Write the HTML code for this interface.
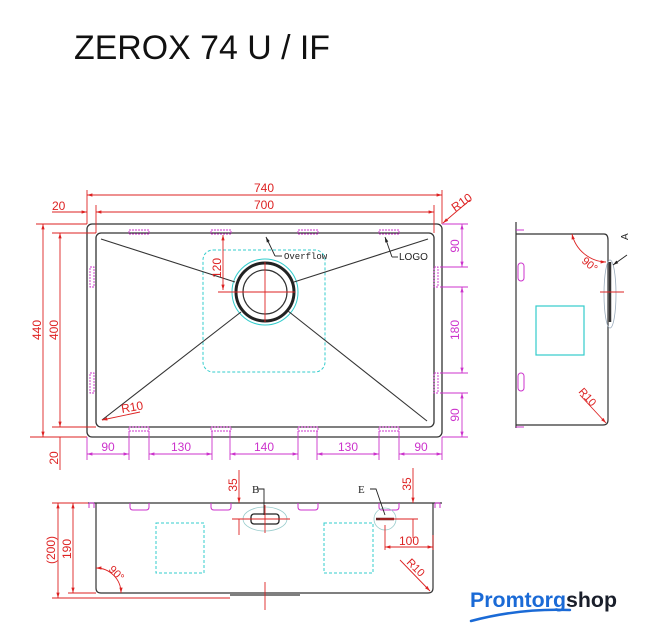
<!DOCTYPE html>
<html><head><meta charset="utf-8"><style>
html,body{margin:0;padding:0;background:#fff;width:662px;height:640px;overflow:hidden}
svg{display:block}
</style></head><body>
<svg width="662" height="640" viewBox="0 0 662 640" xmlns="http://www.w3.org/2000/svg" font-family="Liberation Sans, sans-serif">
<defs>
<marker id="ar" viewBox="0 0 10 10" refX="10" refY="5" markerWidth="6" markerHeight="6" orient="auto-start-reverse"><path d="M0,2 L10,5 L0,8z" fill="#d22"/></marker>
<marker id="am" viewBox="0 0 10 10" refX="10" refY="5" markerWidth="6" markerHeight="6" orient="auto-start-reverse"><path d="M0,2 L10,5 L0,8z" fill="#c3c"/></marker>
<marker id="ab" viewBox="0 0 10 10" refX="10" refY="5" markerWidth="6" markerHeight="6" orient="auto"><path d="M0,2 L10,5 L0,8z" fill="#222"/></marker>
</defs>
<text x="74" y="59" font-size="34" fill="#111" textLength="256" lengthAdjust="spacingAndGlyphs">ZEROX 74 U / IF</text>

<!-- TOP VIEW -->
<rect x="87" y="224" width="355" height="213" rx="5" fill="none" stroke="#333" stroke-width="1.3"/>
<rect x="96" y="233" width="338" height="194" rx="5" fill="none" stroke="#333" stroke-width="1.3"/>
<rect x="203" y="250" width="122" height="122" rx="10" fill="none" stroke="#3cc" stroke-width="1" stroke-dasharray="3,2"/>
<circle cx="265" cy="292" r="33" fill="none" stroke="#3cc" stroke-width="1"/>
<circle cx="265" cy="292" r="29" fill="none" stroke="#222" stroke-width="3"/>
<circle cx="265" cy="292" r="22" fill="none" stroke="#333" stroke-width="1.2"/>
<g stroke="#333" stroke-width="1.1">
<line x1="101" y1="239" x2="235" y2="282"/><line x1="428" y1="239" x2="294" y2="282"/>
<line x1="102" y1="420" x2="241" y2="312"/><line x1="427" y1="421" x2="288" y2="311"/>
</g>
<g stroke="#d22" stroke-width="0.9" fill="none">
<line x1="265" y1="262" x2="265" y2="322"/><line x1="218" y1="292" x2="295" y2="292"/>
<line x1="223" y1="235" x2="223" y2="290" marker-start="url(#ar)" marker-end="url(#ar)"/>
<line x1="87" y1="195" x2="442" y2="195" marker-start="url(#ar)" marker-end="url(#ar)"/>
<line x1="96" y1="212" x2="434" y2="212" marker-start="url(#ar)" marker-end="url(#ar)"/>
<line x1="52" y1="212" x2="87" y2="212" marker-end="url(#ar)"/>
<line x1="87" y1="190" x2="87" y2="224"/><line x1="442" y1="190" x2="442" y2="224"/>
<line x1="96" y1="205" x2="96" y2="233"/><line x1="434" y1="205" x2="434" y2="233"/>
<line x1="43" y1="224" x2="43" y2="437" marker-start="url(#ar)" marker-end="url(#ar)"/>
<line x1="60" y1="233" x2="60" y2="427" marker-start="url(#ar)" marker-end="url(#ar)"/>
<line x1="36" y1="224" x2="87" y2="224"/><line x1="52" y1="233" x2="96" y2="233"/>
<line x1="52" y1="427" x2="96" y2="427"/><line x1="30" y1="437" x2="87" y2="437"/>
<line x1="60" y1="437" x2="60" y2="470"/>
<line x1="470" y1="200" x2="443" y2="223" marker-end="url(#ar)"/>
<line x1="140" y1="412" x2="102" y2="420" marker-end="url(#ar)"/>
</g>
<g fill="#d22" font-size="12">
<text x="264" y="192" text-anchor="middle">740</text>
<text x="264" y="209" text-anchor="middle">700</text>
<text x="52" y="210">20</text>
<text transform="translate(41,330) rotate(-90)" text-anchor="middle">440</text>
<text transform="translate(58,330) rotate(-90)" text-anchor="middle">400</text>
<text transform="translate(58,458) rotate(-90)" text-anchor="middle">20</text>
<text transform="translate(221,268) rotate(-90)" text-anchor="middle">120</text>
<text transform="translate(455,212) rotate(-35)">R10</text>
<text x="122" y="413" transform="rotate(-10 122 413)">R10</text>
</g>
<!-- clips -->
<g fill="none" stroke="#c3c" stroke-width="0.9" stroke-dasharray="2,1">
<rect x="129" y="230" width="20" height="4"/><rect x="211" y="230" width="20" height="4"/><rect x="298" y="230" width="20" height="4"/><rect x="379" y="230" width="20" height="4"/>
<rect x="129" y="427" width="20" height="4"/><rect x="211" y="427" width="20" height="4"/><rect x="298" y="427" width="20" height="4"/><rect x="379" y="427" width="20" height="4"/>
<rect x="90" y="267" width="4" height="20"/><rect x="90" y="373" width="4" height="20"/>
<rect x="434" y="267" width="4" height="20"/><rect x="434" y="373" width="4" height="20"/>
</g>
<g stroke="#c3c" stroke-width="0.9" fill="none">
<line x1="462" y1="224" x2="462" y2="267" marker-start="url(#am)" marker-end="url(#am)"/>
<line x1="462" y1="287" x2="462" y2="373" marker-start="url(#am)" marker-end="url(#am)"/>
<line x1="462" y1="393" x2="462" y2="437" marker-start="url(#am)" marker-end="url(#am)"/>
<line x1="442" y1="224" x2="468" y2="224"/><line x1="440" y1="267" x2="468" y2="267"/><line x1="440" y1="287" x2="468" y2="287"/><line x1="440" y1="373" x2="468" y2="373"/><line x1="440" y1="393" x2="468" y2="393"/><line x1="442" y1="437" x2="468" y2="437"/>
<line x1="87" y1="454" x2="129" y2="454" marker-start="url(#am)" marker-end="url(#am)"/>
<line x1="149" y1="454" x2="212" y2="454" marker-start="url(#am)" marker-end="url(#am)"/>
<line x1="230" y1="454" x2="298" y2="454" marker-start="url(#am)" marker-end="url(#am)"/>
<line x1="317" y1="454" x2="379" y2="454" marker-start="url(#am)" marker-end="url(#am)"/>
<line x1="399" y1="454" x2="442" y2="454" marker-start="url(#am)" marker-end="url(#am)"/>
<line x1="87" y1="437" x2="87" y2="460"/><line x1="129" y1="431" x2="129" y2="460"/><line x1="149" y1="431" x2="149" y2="460"/><line x1="212" y1="431" x2="212" y2="460"/><line x1="230" y1="431" x2="230" y2="460"/><line x1="298" y1="431" x2="298" y2="460"/><line x1="317" y1="431" x2="317" y2="460"/><line x1="379" y1="431" x2="379" y2="460"/><line x1="399" y1="431" x2="399" y2="460"/><line x1="442" y1="437" x2="442" y2="460"/>
</g>
<g fill="#c3c" font-size="12" text-anchor="middle">
<text x="108" y="451">90</text><text x="181" y="451">130</text><text x="264" y="451">140</text><text x="348" y="451">130</text><text x="421" y="451">90</text>
<text transform="translate(459,246) rotate(-90)">90</text>
<text transform="translate(459,330) rotate(-90)">180</text>
<text transform="translate(459,415) rotate(-90)">90</text>
</g>
<g stroke="#222" stroke-width="0.9" fill="none">
<polyline points="275,256 282,256"/><line x1="275" y1="256" x2="266" y2="237" marker-end="url(#ab)"/>
<polyline points="392,257 398,257"/><line x1="392" y1="257" x2="385" y2="237" marker-end="url(#ab)"/>
</g>
<text x="284" y="259" font-family="Liberation Mono, monospace" font-size="9" fill="#222">Overflow</text>
<text x="399" y="260" font-size="10" fill="#222">LOGO</text>

<!-- SIDE VIEW -->
<g stroke="#333" stroke-width="1.2" fill="none">
<line x1="516" y1="222" x2="516" y2="428"/>
<path d="M516,234 H604 Q608,234 608,240 V420 Q608,425 603,425 H516"/>
</g>
<g stroke="#c3c" stroke-width="1" fill="none">
<path d="M516,230 H524 M516,427 H524"/>
<rect x="518" y="263" width="6" height="18" rx="3"/><rect x="518" y="373" width="6" height="18" rx="3"/>
</g>
<rect x="536" y="306" width="48" height="49" fill="none" stroke="#3cc" stroke-width="1.2"/>
<ellipse cx="610" cy="294" rx="6" ry="34" fill="none" stroke="#9ab" stroke-width="0.8"/>
<line x1="610" y1="262" x2="610" y2="322" stroke="#333" stroke-width="2.5"/>
<line x1="600" y1="292" x2="624" y2="292" stroke="#d22" stroke-width="1"/>
<path d="M572,234 A36,36 0 0 0 606,262" fill="none" stroke="#d22" stroke-width="0.9" marker-start="url(#ar)" marker-end="url(#ar)"/>
<text transform="translate(581,262) rotate(40)" fill="#d22" font-size="11">90°</text>
<line x1="627" y1="255" x2="613" y2="265" stroke="#222" stroke-width="0.9" marker-end="url(#ab)"/>
<text transform="translate(628,240) rotate(-90)" fill="#222" font-size="10">A</text>
<line x1="580" y1="395" x2="606" y2="423" stroke="#d22" stroke-width="0.9" marker-end="url(#ar)"/>
<text transform="translate(578,392) rotate(48)" fill="#d22" font-size="11">R10</text>

<!-- FRONT VIEW -->
<line x1="88" y1="503" x2="442" y2="503" stroke="#333" stroke-width="1.2"/>
<path d="M96,503 V588 Q96,593 101,593 H428 Q433,593 433,588 V503" fill="none" stroke="#333" stroke-width="1.2"/>
<line x1="230" y1="595" x2="300" y2="595" stroke="#555" stroke-width="1.5"/>
<g stroke="#c3c" stroke-width="1" fill="none">
<path d="M89,503 V508 M94,503 V508 M89,503 H94 M435,503 V508 M440,503 V508 M435,503 H440"/>
<path d="M130,503 V507 Q130,510 133,510 H146 Q149,510 149,507 V503"/>
<path d="M211,503 V507 Q211,510 214,510 H228 Q231,510 231,507 V503"/>
<path d="M298,503 V507 Q298,510 301,510 H315 Q318,510 318,507 V503"/>
<path d="M379,503 V507 Q379,510 382,510 H396 Q399,510 399,507 V503"/>
</g>
<g fill="none" stroke="#3cc" stroke-width="1" stroke-dasharray="3,2">
<rect x="156" y="523" width="48" height="50"/><rect x="324" y="523" width="49" height="50"/>
</g>
<ellipse cx="265" cy="519" rx="22" ry="12" fill="none" stroke="#9cc" stroke-width="0.8"/>
<rect x="251" y="514" width="28" height="10" rx="3" fill="none" stroke="#222" stroke-width="1.3"/>
<circle cx="385" cy="519" r="11" fill="none" stroke="#9cc" stroke-width="0.8"/>
<line x1="376" y1="519" x2="394" y2="519" stroke="#622" stroke-width="2.5"/>
<g stroke="#222" stroke-width="0.9" fill="none">
<polyline points="258,489 264,489 264,515"/>
<polyline points="370,489 376,489 385,515"/>
</g>
<text x="252" y="493" font-family="Liberation Serif, serif" font-size="11" fill="#222">B</text>
<text x="358" y="493" font-family="Liberation Serif, serif" font-size="11" fill="#222">E</text>
<g stroke="#d22" stroke-width="0.9" fill="none">
<line x1="73" y1="503" x2="73" y2="593" marker-start="url(#ar)" marker-end="url(#ar)"/>
<line x1="58" y1="503" x2="58" y2="598" marker-start="url(#ar)" marker-end="url(#ar)"/>
<line x1="52" y1="503" x2="88" y2="503"/><line x1="68" y1="593" x2="96" y2="593"/><line x1="52" y1="598" x2="230" y2="598"/>
<line x1="239" y1="470" x2="239" y2="503" marker-end="url(#ar)"/><line x1="239" y1="519" x2="239" y2="535"/>
<line x1="232" y1="519" x2="290" y2="519"/><line x1="265" y1="505" x2="265" y2="533"/>
<line x1="413" y1="468" x2="413" y2="503" marker-end="url(#ar)"/><line x1="413" y1="519" x2="413" y2="538"/>
<line x1="380" y1="519" x2="418" y2="519"/>
<line x1="385" y1="547" x2="433" y2="547" marker-start="url(#ar)" marker-end="url(#ar)"/>
<line x1="385" y1="525" x2="385" y2="550"/><line x1="433" y1="535" x2="433" y2="550"/>
<line x1="265" y1="582" x2="265" y2="610"/>
<path d="M96,568 A25,25 0 0 1 121,593" marker-start="url(#ar)" marker-end="url(#ar)"/>
<line x1="400" y1="560" x2="430" y2="591" marker-end="url(#ar)"/>
</g>
<g fill="#d22" font-size="12">
<text transform="translate(55,550) rotate(-90)" text-anchor="middle">(200)</text>
<text transform="translate(71,549) rotate(-90)" text-anchor="middle">190</text>
<text transform="translate(237,485) rotate(-90)" text-anchor="middle">35</text>
<text transform="translate(411,484) rotate(-90)" text-anchor="middle">35</text>
<text x="409" y="545" text-anchor="middle">100</text>
<text transform="translate(108,570) rotate(45)" font-size="11">90°</text>
<text transform="translate(406,563) rotate(45)" font-size="11">R10</text>
</g>

<!-- LOGO -->
<text x="470" y="607" font-size="21" font-weight="bold" fill="#1a6ad6" textLength="147" lengthAdjust="spacingAndGlyphs">Promtorg<tspan fill="#1a1f2b">shop</tspan></text>
<path d="M471,621 Q520,608 570,610" fill="none" stroke="#1a6ad6" stroke-width="2.5" stroke-linecap="round"/>
</svg>
</body></html>
